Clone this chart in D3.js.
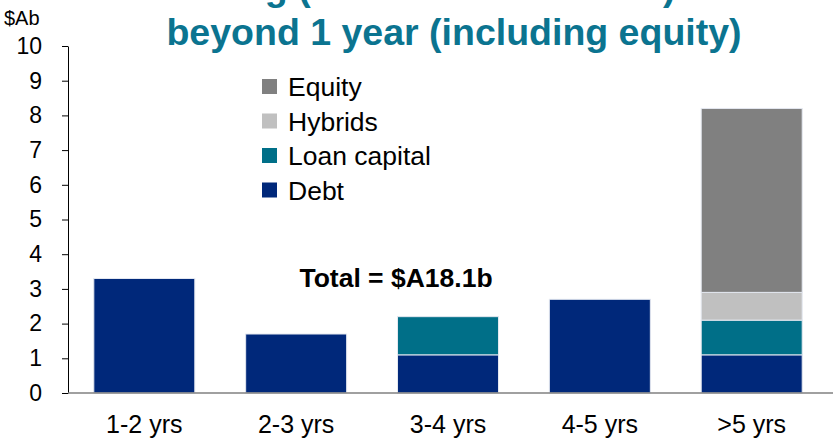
<!DOCTYPE html>
<html>
<head>
<meta charset="utf-8">
<script src="https://cdn.jsdelivr.net/npm/d3@7"></script>
<style>
  body { margin: 0; background: #fff; }
  svg { font-family: "Liberation Sans", Arial, sans-serif; }
</style>
</head>
<body>
<svg id="chart" width="833" height="438"></svg>
<script>
// Maturity profile, $A billions
const categories = ['1-2 yrs', '2-3 yrs', '3-4 yrs', '4-5 yrs', '>5 yrs'];
const seriesNames = ['Debt', 'Loan capital', 'Hybrids', 'Equity'];
const debt = [3.3, 1.7, 1.1, 2.7, 1.1];
const loanCapital = [0, 0, 1.1, 0, 1.0];
const hybrids = [0, 0, 0, 0, 0.8];
const equity = [0, 0, 0, 0, 5.3];
const yTicks = [0, 1, 2, 3, 4, 5, 6, 7, 8, 9, 10];
const colors = ['#00287a', '#006f88', '#c0c0c0', '#808080'];

const svg = d3.select('#chart');
const margin = { top: 46, right: 5, bottom: 45, left: 68 };
const width = 833, height = 438;

const table = categories.map((c, i) => ({
  cat: c, 'Debt': debt[i], 'Loan capital': loanCapital[i], 'Hybrids': hybrids[i], 'Equity': equity[i]
}));
const stacked = d3.stack().keys(seriesNames)(table);

const x = d3.scaleBand()
  .domain(categories)
  .range([margin.left, width - margin.right])
  .paddingInner(0.335)
  .paddingOuter(0.17);

const y = d3.scaleLinear()
  .domain([0, 10])
  .range([height - margin.bottom, margin.top]);

// Bars
svg.append('g').selectAll('g')
  .data(stacked)
  .enter().append('g')
  .attr('fill', (d, i) => colors[i])
  .selectAll('rect')
  .data(d => d.filter(p => p[1] - p[0] > 0))
  .enter().append('rect')
  .attr('x', d => x(d.data.cat))
  .attr('y', d => y(d[1]))
  .attr('width', x.bandwidth())
  .attr('height', d => y(d[0]) - y(d[1]))
  .attr('stroke', '#e4e8f0')
  .attr('stroke-width', 1);

// Y axis
const yAxis = svg.append('g')
  .attr('transform', `translate(${margin.left},0)`)
  .call(d3.axisLeft(y).tickValues(yTicks).tickSize(6).tickSizeOuter(0).tickPadding(20));
yAxis.select('.domain').attr('stroke', '#000');
yAxis.selectAll('.tick line').attr('stroke', '#000');
yAxis.selectAll('.tick text').attr('font-size', 23).attr('fill', '#000');

// X axis
const xAxis = svg.append('g')
  .attr('transform', `translate(0,${y(0)})`)
  .call(d3.axisBottom(x).tickSize(0).tickPadding(22));
xAxis.select('.domain').attr('stroke', '#808080').attr('stroke-width', 1.5)
  .attr('d', `M${margin.left},0H${width}`);
xAxis.selectAll('.tick text').attr('font-size', 25).attr('fill', '#000');

// Unit label
svg.append('text')
  .attr('x', 4).attr('y', 25)
  .attr('font-size', 20)
  .text('$Ab');

// Title (first line is clipped by the top edge, as in the source)
const title = svg.append('g')
  .attr('font-weight', 'bold')
  .attr('font-size', 37.5)
  .attr('fill', '#0b7490');
title.append('text').attr('x', 51).attr('y', 0)
  .text('Term funding (as at 31 March 2010)');
title.append('text').attr('x', 454).attr('y', 45)
  .attr('text-anchor', 'middle')
  .text('beyond 1 year (including equity)');

// Legend
const legendItems = seriesNames.slice().reverse();
const legend = svg.append('g').attr('transform', 'translate(262,79)');
legendItems.forEach((name, i) => {
  const row = legend.append('g').attr('transform', `translate(0,${i * 34.5})`);
  row.append('rect')
    .attr('width', 15).attr('height', 15)
    .attr('fill', colors[seriesNames.indexOf(name)]);
  row.append('text')
    .attr('x', 26).attr('y', 17)
    .attr('font-size', 26.5)
    .text(name);
});

// Total annotation
const total = d3.sum(table, d => d3.sum(seriesNames, k => d[k]));
svg.append('text')
  .attr('x', 396).attr('y', 287)
  .attr('text-anchor', 'middle')
  .attr('font-weight', 'bold')
  .attr('font-size', 26.5)
  .text(`Total = $A${total.toFixed(1)}b`);
</script>
</body>
</html>
